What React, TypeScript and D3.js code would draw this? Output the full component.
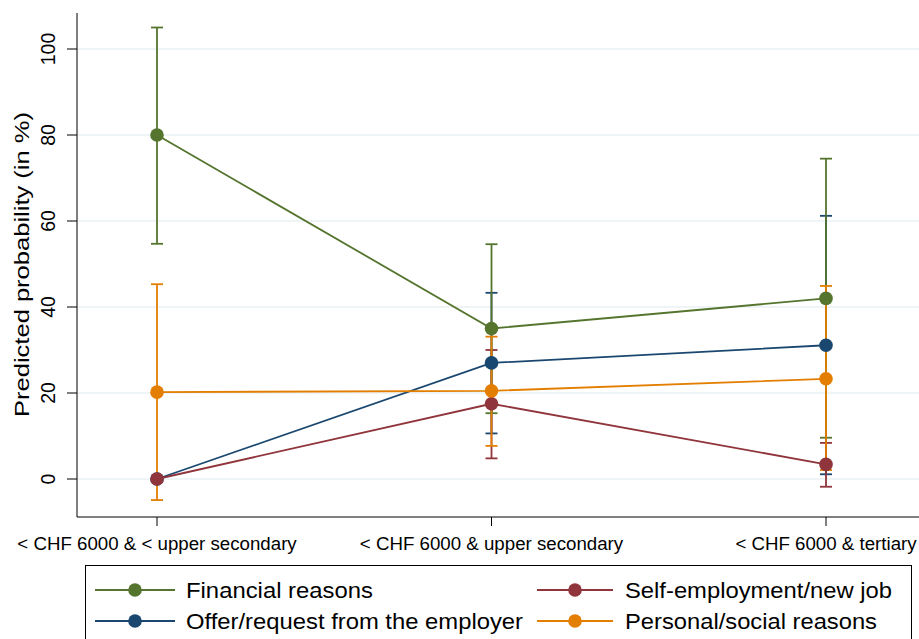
import { useEffect, useRef } from 'react';
import * as d3 from 'd3';

const categories = [
  '< CHF 6000 & < upper secondary',
  '< CHF 6000 & upper secondary',
  '< CHF 6000 & tertiary',
];
const yTicks = [0, 20, 40, 60, 80, 100];

const financial = [80, 35, 42];
const financialLo = [54.7, 15.3, 9.6];
const financialHi = [105, 54.6, 74.5];

const offer = [0, 27, 31.1];
const offerLo = [0, 10.6, 1.1];
const offerHi = [0, 43.3, 61.2];

const selfEmployment = [0, 17.5, 3.4];
const selfEmploymentLo = [0, 4.8, -1.8];
const selfEmploymentHi = [0, 30.0, 8.4];

const personal = [20.2, 20.5, 23.3];
const personalLo = [-4.9, 7.7, 2.1];
const personalHi = [45.3, 33.1, 44.9];

interface Series {
  name: string;
  color: string;
  values: number[];
  lo: number[];
  hi: number[];
}

const series: Series[] = [
  { name: 'Financial reasons', color: '#55752f', values: financial, lo: financialLo, hi: financialHi },
  { name: 'Self-employment/new job', color: '#90353b', values: selfEmployment, lo: selfEmploymentLo, hi: selfEmploymentHi },
  { name: 'Offer/request from the employer', color: '#1a476f', values: offer, lo: offerLo, hi: offerHi },
  { name: 'Personal/social reasons', color: '#e37e00', values: personal, lo: personalLo, hi: personalHi },
];

// draw order (later is on top)
const drawOrder = [2, 1, 0, 3];

export default function App() {
  const svgRef = useRef<SVGSVGElement>(null);
  const width = 919;
  const height = 639;

  useEffect(() => {
    if (!svgRef.current) return;
    const svg = d3.select(svgRef.current);
    svg.selectAll('*').remove();

    const font = 'Arial, "Liberation Sans", sans-serif';
    const axisLeft = 77;
    const axisTop = 13;
    const axisBottom = 517;

    const x = d3.scalePoint<string>().domain(categories).range([157, 826]);
    const y = d3.scaleLinear().domain([0, 100]).range([479, 49]);

    svg.append('rect').attr('width', width).attr('height', height).attr('fill', '#fff');

    // gridlines
    svg.append('g')
      .selectAll('line')
      .data(yTicks)
      .enter()
      .append('line')
      .attr('x1', axisLeft)
      .attr('x2', width)
      .attr('y1', d => y(d))
      .attr('y2', d => y(d))
      .attr('stroke', '#eaf2f3')
      .attr('stroke-width', 1.5);

    // y axis
    svg.append('line')
      .attr('x1', axisLeft).attr('x2', axisLeft)
      .attr('y1', axisTop).attr('y2', axisBottom)
      .attr('stroke', '#000').attr('stroke-width', 1);

    const yt = svg.append('g');
    yTicks.forEach(t => {
      yt.append('line')
        .attr('x1', axisLeft - 10).attr('x2', axisLeft)
        .attr('y1', y(t)).attr('y2', y(t))
        .attr('stroke', '#000');
      yt.append('text')
        .attr('transform', `translate(${axisLeft - 22},${y(t)}) rotate(-90)`)
        .attr('text-anchor', 'middle')
        .attr('font-family', font)
        .attr('font-size', 19.5)
        .attr('fill', '#000')
        .text(t);
    });

    svg.append('text')
      .attr('transform', `translate(29,264.5) rotate(-90)`)
      .attr('text-anchor', 'middle')
      .attr('font-family', font)
      .attr('font-size', 20.5)
      .attr('fill', '#000')
      .attr('textLength', 305)
      .attr('lengthAdjust', 'spacingAndGlyphs')
      .text('Predicted probability (in %)');

    // x axis
    svg.append('line')
      .attr('x1', axisLeft).attr('x2', width)
      .attr('y1', axisBottom).attr('y2', axisBottom)
      .attr('stroke', '#000');

    const xt = svg.append('g');
    categories.forEach(c => {
      xt.append('line')
        .attr('x1', x(c)!).attr('x2', x(c)!)
        .attr('y1', axisBottom).attr('y2', axisBottom + 9)
        .attr('stroke', '#000');
      xt.append('text')
        .attr('x', x(c)!)
        .attr('y', axisBottom + 33)
        .attr('text-anchor', 'middle')
        .attr('font-family', font)
        .attr('font-size', 18.7)
        .attr('fill', '#000')
        .text(c);
    });

    const capHalf = 6;

    // confidence intervals
    drawOrder.forEach(si => {
      const s = series[si];
      const g = svg.append('g');
      categories.forEach((c, i) => {
        const cx = x(c)!;
        g.append('line')
          .attr('x1', cx).attr('x2', cx)
          .attr('y1', y(s.lo[i])).attr('y2', y(s.hi[i]))
          .attr('stroke', s.color).attr('stroke-width', 1.8);
        [s.lo[i], s.hi[i]].forEach(v => {
          g.append('line')
            .attr('x1', cx - capHalf).attr('x2', cx + capHalf)
            .attr('y1', y(v)).attr('y2', y(v))
            .attr('stroke', s.color).attr('stroke-width', 1.8);
        });
      });
    });

    // lines and markers
    const line = d3.line<number>()
      .x((_, i) => x(categories[i])!)
      .y(d => y(d));

    drawOrder.forEach(si => {
      const s = series[si];
      svg.append('path')
        .attr('d', line(s.values)!)
        .attr('fill', 'none')
        .attr('stroke', s.color)
        .attr('stroke-width', 1.8);
      svg.append('g')
        .selectAll('circle')
        .data(s.values)
        .enter()
        .append('circle')
        .attr('cx', (_, i) => x(categories[i])!)
        .attr('cy', d => y(d))
        .attr('r', 6.8)
        .attr('fill', s.color);
    });

    // legend
    const lg = svg.append('g');
    lg.append('rect')
      .attr('x', 85.5).attr('y', 565.5)
      .attr('width', 826).attr('height', 90)
      .attr('fill', '#fff').attr('stroke', '#000').attr('stroke-width', 1);

    const legendPos = [
      { x1: 95, x2: 175, tx: 186, ty: 590, len: 187 },
      { x1: 537, x2: 613, tx: 625, ty: 590, len: 267 },
      { x1: 95, x2: 175, tx: 186, ty: 621, len: 337 },
      { x1: 537, x2: 613, tx: 625, ty: 621, len: 252 },
    ];
    series.forEach((s, i) => {
      const p = legendPos[i];
      lg.append('line')
        .attr('x1', p.x1).attr('x2', p.x2)
        .attr('y1', p.ty).attr('y2', p.ty)
        .attr('stroke', s.color).attr('stroke-width', 1.8);
      lg.append('circle')
        .attr('cx', (p.x1 + p.x2) / 2).attr('cy', p.ty)
        .attr('r', 6.8).attr('fill', s.color);
      lg.append('text')
        .attr('x', p.tx).attr('y', p.ty + 7.5)
        .attr('font-family', font)
        .attr('font-size', 21.5)
        .attr('fill', '#000')
        .attr('textLength', p.len)
        .attr('lengthAdjust', 'spacingAndGlyphs')
        .text(s.name);
    });
  }, []);

  return (
    <svg
      ref={svgRef}
      width={width}
      height={height}
      style={{ position: 'absolute', left: 0, top: 0, display: 'block' }}
    />
  );
}
